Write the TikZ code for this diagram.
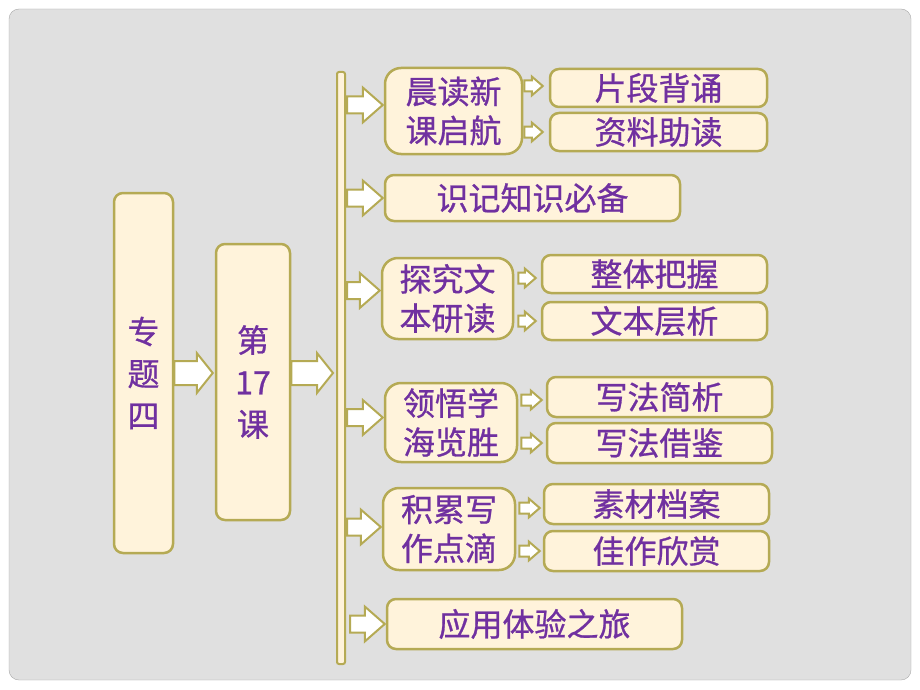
\documentclass[tikz,border=0pt]{standalone}
\usepackage{fontspec}
\newfontfamily\cjk[AutoFakeBold=0.8]{Noto Sans CJK SC}
\usetikzlibrary{calc}

\definecolor{panelgray}{RGB}{224,224,224}
\definecolor{panelline}{RGB}{168,168,168}
\definecolor{boxfill}{RGB}{255,243,219}
\definecolor{boxline}{RGB}{181,170,84}
\definecolor{boxtext}{RGB}{112,48,160}

\newcommand\boxtextstyle{\cjk\bfseries\fontsize{32}{39}\selectfont}
\newcommand\tallboxtextstyle{\cjk\bfseries\fontsize{32}{42}\selectfont}
% block arrow: from, tip, shaft half height, head half height, head length
\newcommand\blockarrow[5]{
  \draw[barrow] let \p1 = #1, \p2 = #2 in
    (\x1, \y2 + #3pt) -- (\x2 - #5pt, \y2 + #3pt) -- (\x2 - #5pt, \y2 + #4pt)
    -- (\x2, \y2) -- (\x2 - #5pt, \y2 - #4pt) -- (\x2 - #5pt, \y2 - #3pt)
    -- (\x1, \y2 - #3pt) -- cycle ;
}

\begin{document}
\begin{tikzpicture}[x=1pt, y=-1pt,
    lessonbox/.style={draw=boxline, line width=2.5pt, fill=boxfill, rounded corners=9pt,
      text=boxtext, align=center, inner sep=0pt, font=\boxtextstyle},
    unitbox/.style={lessonbox, rounded corners=16pt},
    tallbox/.style={lessonbox, font=\tallboxtextstyle},
    barrow/.style={draw=boxline, line width=2pt, fill=white, line join=miter}]
    \useasboundingbox (0, 0) rectangle (920, 690) ;
    \fill[white] (0, 0) rectangle (920, 690) ;
    \draw[draw=panelline, fill=panelgray, rounded corners=10pt] (9, 9) rectangle (911, 680) ;

    % left column
    \node[tallbox, minimum width=59, minimum height=360] (topic) at (143.5, 373) {专\\题\\四} ;
    \node[tallbox, minimum width=74, minimum height=276] (lesson) at (253, 382) {第\\17\\课} ;
    \node[lessonbox, rounded corners=2pt, line width=2pt, minimum width=8, minimum height=592] (bar) at (341, 368) {} ;

    % units
    \node[unitbox, minimum width=137, minimum height=86] (read) at (453.5, 111) {晨读新\\课启航} ;
    \node[lessonbox, minimum width=295, minimum height=46] (know) at (532.5, 198) {识记知识必备} ;
    \node[unitbox, minimum width=131, minimum height=81] (study) at (447.5, 298.5) {探究文\\本研读} ;
    \node[unitbox, minimum width=132, minimum height=79] (learn) at (451, 422.5) {领悟学\\海览胜} ;
    \node[unitbox, minimum width=132, minimum height=82] (write) at (449, 529) {积累写\\作点滴} ;
    \node[lessonbox, minimum width=295, minimum height=50] (apply) at (534.5, 624) {应用体验之旅} ;

    % sub items
    \node[lessonbox, minimum width=217, minimum height=38] (recite) at (658.5, 88) {片段背诵} ;
    \node[lessonbox, minimum width=217, minimum height=38] (material) at (658.5, 132) {资料助读} ;
    \node[lessonbox, minimum width=225, minimum height=38] (whole) at (654.5, 274) {整体把握} ;
    \node[lessonbox, minimum width=225, minimum height=38] (layer) at (654.5, 321) {文本层析} ;
    \node[lessonbox, minimum width=225, minimum height=40] (brief) at (659.5, 397) {写法简析} ;
    \node[lessonbox, minimum width=225, minimum height=40] (borrow) at (659.5, 443) {写法借鉴} ;
    \node[lessonbox, minimum width=225, minimum height=40] (archive) at (656.5, 504) {素材档案} ;
    \node[lessonbox, minimum width=225, minimum height=40] (essay) at (656.5, 551) {佳作欣赏} ;

    % arrows
    \blockarrow{(topic.east)}{($(lesson.west |- topic.east) + (-2, 0)$)}{12}{20}{16}
    \blockarrow{(lesson.east |- topic.east)}{($(bar.west |- topic.east) + (-3, 0)$)}{12}{20}{16}
    \blockarrow{($(bar.east |- read.west) + (1, -6)$)}{($(read.west) + (-1, -6)$)}{8.5}{17.5}{20}
    \blockarrow{($(bar.east |- know.west) + (1, 0)$)}{($(know.west) + (-1, 0)$)}{8.5}{17.5}{20}
    \blockarrow{($(bar.east |- study.west) + (1, -8)$)}{($(study.west) + (-1, -8)$)}{8.5}{17.5}{20}
    \blockarrow{($(bar.east |- learn.west) + (1, -5)$)}{($(learn.west) + (-1, -5)$)}{8.5}{17.5}{20}
    \blockarrow{($(bar.east |- write.west) + (1, -2)$)}{($(write.west) + (-1, -2)$)}{8.5}{17.5}{20}
    \blockarrow{($(bar.east |- apply.west) + (4, 0)$)}{($(apply.west) + (-1, 0)$)}{8.5}{17.5}{20}
    \blockarrow{($(read.east |- recite.west) + (1, -2)$)}{($(recite.west) + (-6, -2)$)}{5.5}{9.5}{11}
    \blockarrow{($(read.east |- material.west) + (1, 0)$)}{($(material.west) + (-6, 0)$)}{5.5}{9.5}{11}
    \blockarrow{($(study.east |- whole.west) + (4, 4)$)}{($(whole.west) + (-5, 4)$)}{5.5}{9.5}{11}
    \blockarrow{($(study.east |- layer.west) + (4, 0)$)}{($(layer.west) + (-5, 0)$)}{5.5}{9.5}{11}
    \blockarrow{($(learn.east |- brief.west) + (3, 3)$)}{($(brief.west) + (-4, 3)$)}{5.5}{9.5}{11}
    \blockarrow{($(learn.east |- borrow.west) + (3, 0)$)}{($(borrow.west) + (-4, 0)$)}{5.5}{9.5}{11}
    \blockarrow{($(write.east |- archive.west) + (3, 4)$)}{($(archive.west) + (-3, 4)$)}{5.5}{9.5}{11}
    \blockarrow{($(write.east |- essay.west) + (3, 0)$)}{($(essay.west) + (-3, 0)$)}{5.5}{9.5}{11}
\end{tikzpicture}
\end{document}
